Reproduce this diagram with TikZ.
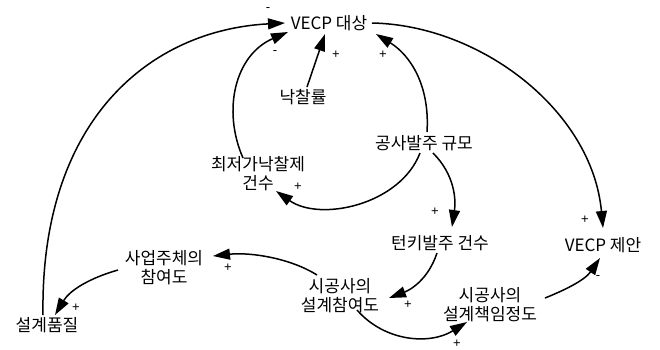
\documentclass[tikz,border=0pt]{standalone}
\usepackage{fontspec}
\setmainfont{Noto Sans CJK KR}
\newfontfamily\signfont{Liberation Sans}
\usetikzlibrary{arrows.meta}
\tikzset{
  var/.style={inner sep=0pt, align=center, font=\fontsize{17}{19}\selectfont},
  link/.style={line width=1.5pt, -{Triangle[length=17pt,width=11pt]}},
  sign/.style={inner sep=0pt, font=\signfont\fontsize{13}{14}\selectfont}
}
\begin{document}
\begin{tikzpicture}[x=1pt,y=-1pt]
\useasboundingbox (0,0) rectangle (660,349);
% variables
\node[var] (v) at (329,23) {VECP 대상};
\node[var] (n) at (303,97) {낙찰률};
\node[var] (g) at (424,143) {공사발주 규모};
\node[var] (c) at (258,174) {최저가낙찰제\\건수};
\node[var] (t) at (440,243) {턴키발주 건수};
\node[var] (p) at (603,245) {VECP 제안};
\node[var] (s) at (164,268) {사업주체의\\참여도};
\node[var] (a) at (340,296) {시공사의\\설계참여도};
\node[var] (r) at (490,305) {시공사의\\설계책임정도};
\node[var] (q) at (47,325) {설계품질};
% links
\draw[link] ([shift={(-4,-10)}]q.center) .. controls (40,120) and (150,30) .. ([shift={(-44,0)}]v.center);
\draw[link] ([shift={(-15,-16)}]c.center) .. controls (222,110) and (235,55) .. ([shift={(-41,9)}]v.center);
\draw[link] ([shift={(4,-10)}]n.center) -- ([shift={(-4,11)}]v.center);
\draw[link] ([shift={(3,-11)}]g.center) .. controls (430,85) and (410,55) .. ([shift={(47,11)}]v.center);
\draw[link] ([shift={(-4,10)}]g.center) .. controls (400,205) and (320,222) .. ([shift={(18,17)}]c.center);
\draw[link] ([shift={(9,10)}]g.center) .. controls (455,175) and (456,200) .. ([shift={(12,-16)}]t.center);
\draw[link] ([shift={(43,0)}]v.center) .. controls (480,25) and (592,110) .. ([shift={(0,-17)}]p.center);
\draw[link] ([shift={(-3,10)}]t.center) .. controls (428,280) and (410,290) .. ([shift={(49,2)}]a.center);
\draw[link] ([shift={(-23,-21)}]a.center) .. controls (290,258) and (250,252) .. ([shift={(49,-12)}]s.center);
\draw[link] ([shift={(-46,2)}]s.center) .. controls (90,278) and (70,290) .. ([shift={(8,-10)}]q.center);
\draw[link] ([shift={(17,14)}]a.center) .. controls (385,342) and (430,345) .. ([shift={(-23,17)}]r.center);
\draw[link] ([shift={(55,-7)}]r.center) .. controls (565,290) and (585,280) .. ([shift={(-3,13)}]p.center);
% polarity signs
\node[sign] (s1) at (268,10) {-};
\node[sign] (s2) at (275,53) {-};
\node[sign] (s3) at (336,55) {+};
\node[sign] (s4) at (383,55) {+};
\node[sign] (s5) at (298,187) {+};
\node[sign] (s6) at (435,212) {+};
\node[sign] (s7) at (585,220) {+};
\node[sign] (s8) at (408,305) {+};
\node[sign] (s9) at (228,268) {+};
\node[sign] (s10) at (76,308) {+};
\node[sign] (s11) at (457,344) {+};
\node[sign] (s12) at (598,278) {-};
\end{tikzpicture}
\end{document}
